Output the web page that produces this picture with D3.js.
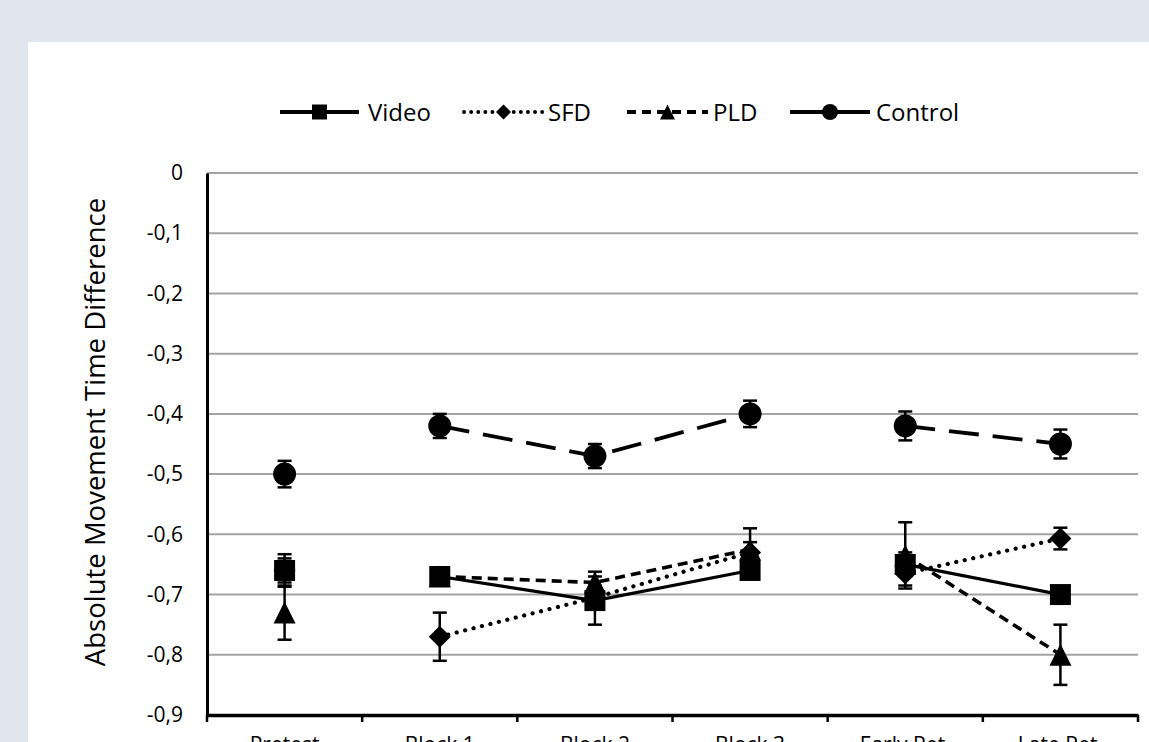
<!DOCTYPE html>
<html>
<head>
<meta charset="utf-8">
<script src="https://cdn.jsdelivr.net/npm/d3@7/dist/d3.min.js"></script>
<style>
  html, body { margin: 0; padding: 0; background: #e1e5ee; overflow: hidden; }
  svg { display: block; }
</style>
</head>
<body>
<svg id="chart" width="1149" height="742"></svg>
<script>
// ---- data ----
const categories = ["Pretest", "Block 1", "Block 2", "Block 3", "Early Ret.", "Late Ret."];
// line segments: points with the same phase are connected
const phases = ["pre", "train", "train", "train", "ret", "ret"];
const yTicks = [0, -0.1, -0.2, -0.3, -0.4, -0.5, -0.6, -0.7, -0.8, -0.9];

const videoValues   = [-0.66, -0.67, -0.71, -0.66, -0.65, -0.70];
const videoErrors   = [0.027, 0.010, 0.040, 0.010, 0.020, 0.008];
const sfdValues     = [-0.66, -0.77, -0.705, -0.63, -0.665, -0.607];
const sfdErrors     = [0.020, 0.040, 0.020, 0.040, 0.020, 0.018];
const pldValues     = [-0.73, -0.67, -0.68, -0.625, -0.635, -0.80];
const pldErrors     = [0.045, 0.005, 0.018, 0.012, 0.055, 0.050];
const controlValues = [-0.50, -0.42, -0.47, -0.40, -0.42, -0.45];
const controlErrors = [0.022, 0.020, 0.020, 0.022, 0.024, 0.024];

const seriesNames = ["Video", "SFD", "PLD", "Control"];

// ---- styles ----
const series = [
  { name: "Video",   values: videoValues,   errors: videoErrors,   marker: "square",   dash: null,     width: 3.2, legendDash: null,    cap: "butt" },
  { name: "SFD",     values: sfdValues,     errors: sfdErrors,     marker: "diamond",  dash: "0.1 8.6", width: 4.2, legendDash: "0.1 7", cap: "round" },
  { name: "PLD",     values: pldValues,     errors: pldErrors,     marker: "triangle", dash: "10 6",   width: 3.6, legendDash: "9 6",   cap: "butt" },
  { name: "Control", values: controlValues, errors: controlErrors, marker: "circle",   dash: "30 14",  width: 3.8, legendDash: null,    cap: "butt" }
];

const svg = d3.select("#chart");
// white panel
svg.append("rect").attr("x", 28).attr("y", 42).attr("width", 1149 - 28).attr("height", 742 - 42).attr("fill", "#ffffff");

const plot = { left: 207, right: 1138, top: 173, bottom: 715 };
const x = d3.scaleBand().domain(categories).range([plot.left, plot.right]).padding(0);
const cx = c => x(c) + x.bandwidth() / 2;
const y = d3.scaleLinear().domain([-0.9, 0]).range([plot.bottom, plot.top]);

const loc = d3.formatLocale({ decimal: ",", thousands: ".", grouping: [3], currency: ["", ""], minus: "-" });
const f1 = loc.format(".1f");
const fmt = d => (Math.abs(d) < 1e-9 ? "0" : f1(d));

// gridlines
svg.append("g")
  .selectAll("line")
  .data(yTicks.filter(t => t > -0.9))
  .join("line")
  .attr("x1", plot.left).attr("x2", plot.right)
  .attr("y1", d => y(d)).attr("y2", d => y(d))
  .attr("stroke", "#a3a3a3").attr("stroke-width", 2);

// y axis
const yAxis = svg.append("g")
  .attr("transform", `translate(${plot.left},0)`)
  .call(d3.axisLeft(y).tickValues(yTicks).tickFormat(fmt).tickSize(0).tickPadding(24));
yAxis.select(".domain").attr("stroke", "#000").attr("stroke-width", 3);
yAxis.selectAll("text").attr("font-family", "'Open Sans', sans-serif").attr("font-size", 21).attr("fill", "#000");

// x axis
const xAxis = svg.append("g")
  .attr("transform", `translate(0,${plot.bottom})`)
  .call(d3.axisBottom(x).tickSize(0).tickPadding(22));
xAxis.select(".domain").attr("stroke", "#000").attr("stroke-width", 3.5);
xAxis.selectAll("text").attr("font-family", "'Open Sans', sans-serif").attr("font-size", 21).attr("fill", "#000");
// tick marks at category boundaries
xAxis.append("g").selectAll("line")
  .data(categories.concat(["__end"]))
  .join("line")
  .attr("x1", (d, i) => i < categories.length ? x(d) : plot.right)
  .attr("x2", (d, i) => i < categories.length ? x(d) : plot.right)
  .attr("y1", 0).attr("y2", 7)
  .attr("stroke", "#000").attr("stroke-width", 2.5);

// y title
svg.append("text")
  .attr("transform", `translate(105,${(plot.top + plot.bottom) / 2 - 12}) rotate(-90)`)
  .attr("text-anchor", "middle")
  .attr("font-family", "'Open Sans', sans-serif")
  .attr("font-size", 27.5)
  .attr("fill", "#000")
  .text("Absolute Movement Time Difference");

// marker shapes
function markerPath(type, s) {
  const h = s / 2;
  if (type === "square") return `M${-h},${-h}H${h}V${h}H${-h}Z`;
  if (type === "diamond") return `M0,${-h}L${h},0L0,${h}L${-h},0Z`;
  if (type === "triangle") return `M0,${-h}L${h},${h}L${-h},${h}Z`;
  return d3.arc()({ innerRadius: 0, outerRadius: h, startAngle: 0, endAngle: 2 * Math.PI });
}
const markerSize = { square: 21, diamond: 22, triangle: 22, circle: 23 };

// lines
const lineGen = d3.line().x(d => cx(d.cat)).y(d => y(d.v));
series.forEach(s => {
  const pts = categories.map((c, i) => ({ cat: c, v: s.values[i], e: s.errors[i], ph: phases[i] }));
  s.pts = pts;
  const groups = d3.groups(pts, d => d.ph).map(g => g[1]).filter(g => g.length > 1);
  svg.append("g").selectAll("path")
    .data(groups)
    .join("path")
    .attr("d", lineGen)
    .attr("fill", "none")
    .attr("stroke", "#000")
    .attr("stroke-width", s.width)
    .attr("stroke-linecap", s.cap)
    .attr("stroke-dasharray", s.dash);
});

// error bars and markers
series.forEach(s => {
  const g = svg.append("g");
  const eb = g.selectAll("g.eb").data(s.pts).join("g").attr("class", "eb");
  eb.append("line")
    .attr("x1", d => cx(d.cat)).attr("x2", d => cx(d.cat))
    .attr("y1", d => y(d.v - d.e)).attr("y2", d => y(d.v + d.e))
    .attr("stroke", "#000").attr("stroke-width", 2.5);
  [1, -1].forEach(sign => {
    eb.append("line")
      .attr("x1", d => cx(d.cat) - 7).attr("x2", d => cx(d.cat) + 7)
      .attr("y1", d => y(d.v + sign * d.e)).attr("y2", d => y(d.v + sign * d.e))
      .attr("stroke", "#000").attr("stroke-width", 2.5);
  });
  g.selectAll("path.mk").data(s.pts).join("path").attr("class", "mk")
    .attr("transform", d => `translate(${cx(d.cat)},${y(d.v)})`)
    .attr("d", markerPath(s.marker, markerSize[s.marker]))
    .attr("fill", "#000");
});

// legend
const legendY = 112;
const legendItems = [
  { x0: 280, x1: 359, tx: 368 },
  { x0: 464, x1: 543, tx: 548 },
  { x0: 627, x1: 708, tx: 713 },
  { x0: 790, x1: 870, tx: 876 }
];
const legendMarker = { square: 15, diamond: 15, triangle: 15, circle: 16 };
series.forEach((s, i) => {
  const it = legendItems[i];
  const g = svg.append("g");
  g.append("line")
    .attr("x1", it.x0).attr("x2", it.x1).attr("y1", legendY).attr("y2", legendY)
    .attr("stroke", "#000").attr("stroke-width", 3.8)
    .attr("stroke-linecap", s.cap)
    .attr("stroke-dasharray", s.legendDash);
  g.append("path")
    .attr("transform", `translate(${(it.x0 + it.x1) / 2},${legendY})`)
    .attr("d", markerPath(s.marker, legendMarker[s.marker]))
    .attr("fill", "#000");
  g.append("text")
    .attr("x", it.tx).attr("y", legendY + 9)
    .attr("font-family", "'Open Sans', sans-serif")
    .attr("font-size", 24)
    .attr("fill", "#000")
    .text(seriesNames[i]);
});
</script>
</body>
</html>
